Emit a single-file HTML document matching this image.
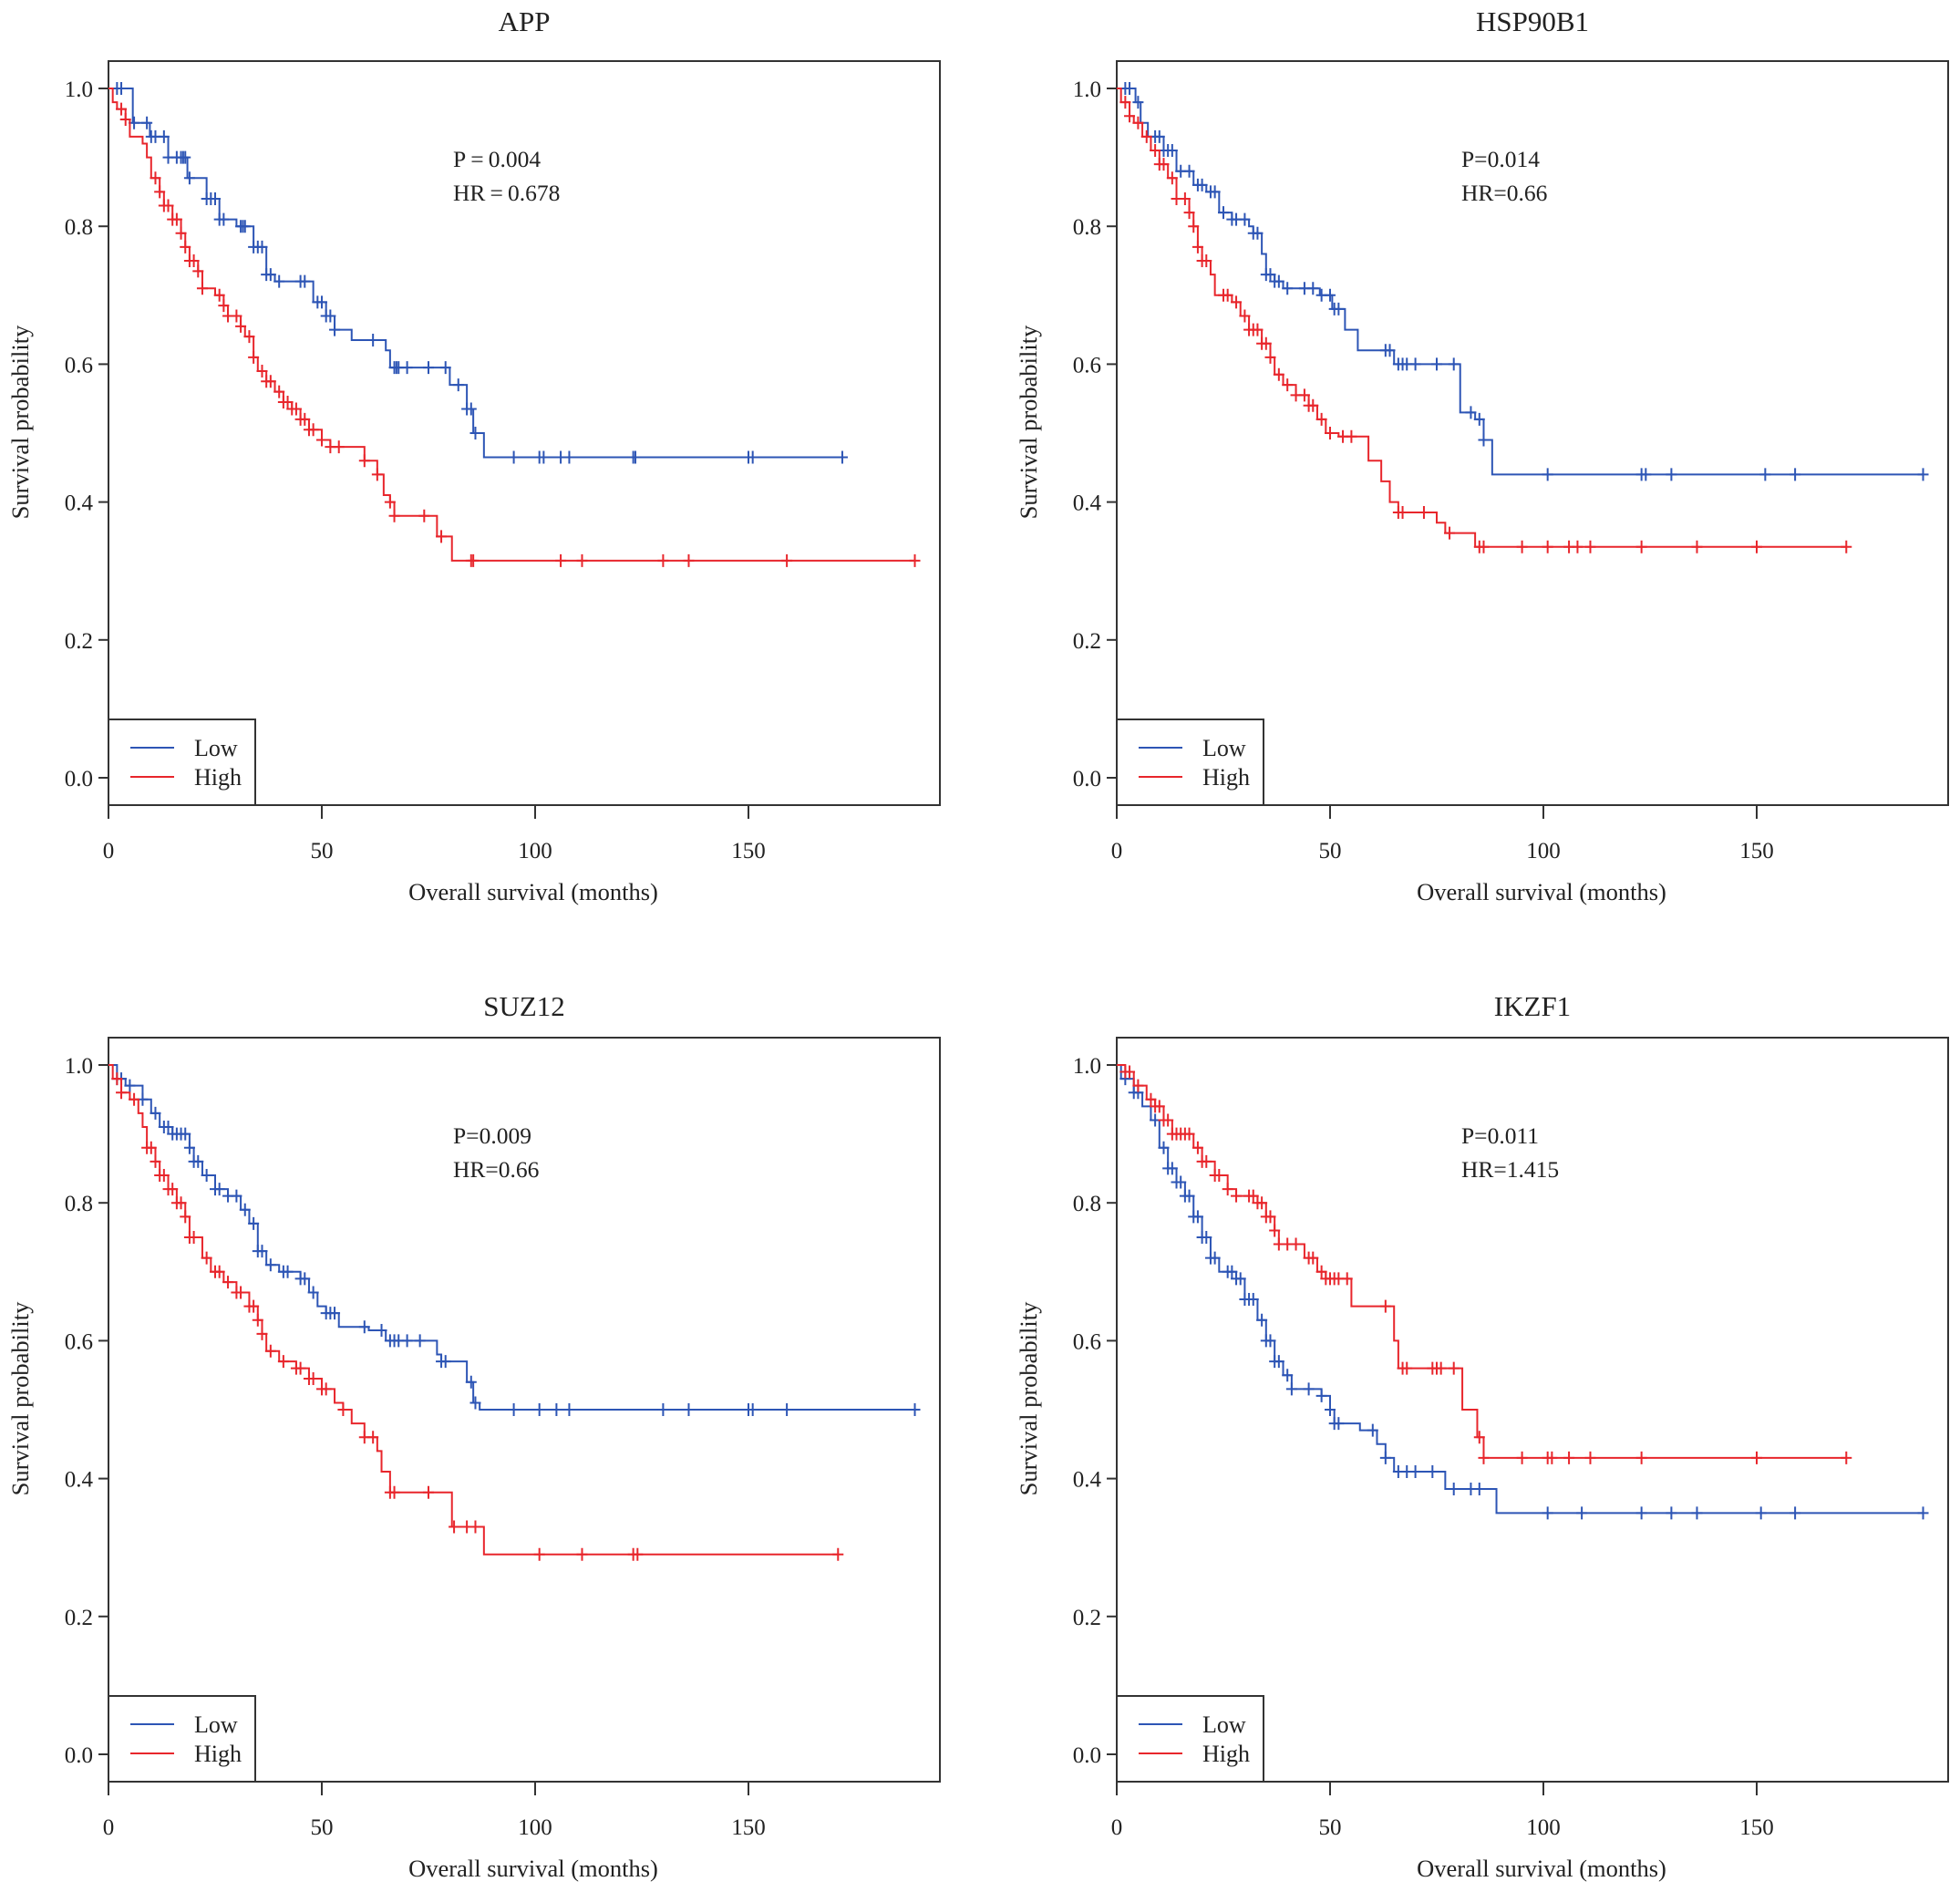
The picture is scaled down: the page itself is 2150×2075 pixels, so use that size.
<!DOCTYPE html>
<html><head><meta charset="utf-8">
<style>
html,body{margin:0;padding:0;background:#fff;}
svg{display:block;font-family:"Liberation Serif","DejaVu Serif",serif;}
</style></head>
<body>
<svg id="fig" width="2150" height="2075" viewBox="0 0 2150 2075" xmlns="http://www.w3.org/2000/svg"></svg>
<script>
// ---- data ----
const panelTitles = ["APP","HSP90B1","SUZ12","IKZF1"];
const pValues = ["P\u2009=\u20090.004","P=0.014","P=0.009","P=0.011"];
const hrValues = ["HR\u2009=\u20090.678","HR=0.66","HR=0.66","HR=1.415"];
const xTicks = [0,50,100,150];
const yTicks = [0.0,0.2,0.4,0.6,0.8,1.0];
const legendLabels = ["Low","High"];

const appLowSteps = [[5.7,0.95],[9.7,0.93],[14,0.90],[18.5,0.87],[23,0.84],[26,0.81],[30,0.80],[34,0.77],[37,0.73],[39,0.72],[48,0.69],[51,0.67],[53,0.65],[57,0.635],[65,0.62],[66,0.595],[80,0.57],[84,0.535],[85.5,0.50],[88,0.465]];
const appLowEnd = 172;
const appLowCens = [2,3,6,9,10,11,13,14,16,17,17.5,18,19,23,24,25,26,27,31,31.5,32,34,35,36,37,38,40,45,46,49,50,51,52,53,62,67,67.5,68,70,75,79,82,84,85,86,95,101,102,106,108,123,123.5,150,151,172];
const appHighSteps = [[1,0.98],[2,0.97],[4,0.955],[5,0.93],[8,0.92],[9,0.90],[10,0.87],[12,0.85],[13,0.83],[15,0.81],[17,0.79],[18,0.77],[19,0.75],[21,0.735],[22,0.71],[25,0.70],[27,0.685],[28,0.67],[31,0.655],[32,0.64],[34,0.61],[35,0.59],[37,0.575],[39,0.56],[41,0.545],[43,0.535],[45,0.52],[47,0.505],[50,0.49],[52,0.48],[60,0.46],[63,0.44],[64.5,0.41],[66,0.40],[67,0.38],[77,0.35],[80.5,0.315]];
const appHighEnd = 189;
const appHighCens = [3,4,11,12,13,14,15,16,17,18,19,20,21,22,26,27,28,30,31,33,34,36,37,38,40,41,42,43,44,45,46,47,48,50,52,54,60,63,66,67,74,78,85,85.5,106,111,130,136,159,189];

const hspLowSteps = [[4.4,0.98],[5.6,0.95],[7.3,0.93],[11,0.91],[14,0.88],[18,0.86],[21,0.85],[24,0.82],[27,0.81],[31,0.80],[32,0.79],[34,0.76],[35,0.73],[37,0.72],[39,0.71],[47.6,0.70],[50.5,0.68],[53.5,0.65],[56.5,0.62],[65,0.60],[80.5,0.53],[84,0.52],[86,0.49],[88,0.44]];
const hspLowEnd = 189;
const hspLowCens = [2,3,5,9,10,11,12,13,15,17,19,20,22,23,25,27,28,30,32,33,35,36,37,38,40,44,46,48,50,51,52,63,64,66,67,68,70,75,79,83,85,86,101,123,124,130,152,159,189];
const hspHighSteps = [[1,0.98],[3,0.96],[4,0.95],[6,0.93],[8,0.91],[10,0.89],[12,0.87],[14,0.84],[17,0.82],[18,0.80],[19,0.77],[20,0.75],[22,0.73],[23,0.70],[27,0.69],[29,0.67],[31,0.65],[34,0.63],[36,0.61],[37,0.585],[39,0.57],[42,0.555],[45,0.54],[47,0.52],[49,0.50],[52,0.495],[59,0.46],[62,0.43],[64,0.40],[66,0.385],[75,0.37],[77,0.355],[84,0.335]];
const hspHighEnd = 171;
const hspHighCens = [2,3,5,7,9,10,11,13,14,16,17,18,19,20,21,25,26,28,30,31,32,33,34,35,36,38,40,42,44,45,46,48,50,53,55,66,67,72,78,85,86,95,101,106,108,111,123,136,150,171];

const suzLowSteps = [[2,0.98],[4,0.97],[8,0.95],[10,0.93],[12,0.91],[15,0.90],[19,0.88],[20,0.86],[22,0.84],[25,0.82],[28,0.81],[31,0.79],[33,0.77],[35,0.73],[37,0.71],[40,0.70],[45,0.69],[47,0.67],[49,0.65],[51,0.64],[54,0.62],[61,0.615],[65,0.60],[77,0.58],[78,0.57],[84,0.54],[85.5,0.51],[87,0.50]];
const suzLowEnd = 189;
const suzLowCens = [2,3,5,8,11,13,14,15,16,17,18,19,20,21,23,25,26,28,30,32,34,35,36,38,41,42,45,46,48,51,52,53,60,64,66,67,68,70,73,78,79,85,86,95,101,105,108,130,136,150,151,159,189];
const suzHighSteps = [[1,0.98],[3,0.96],[5,0.95],[7,0.93],[8,0.91],[9,0.88],[11,0.86],[12,0.84],[14,0.82],[16,0.80],[18,0.78],[19,0.75],[22,0.72],[24,0.70],[27,0.685],[30,0.67],[33,0.65],[35,0.63],[36,0.61],[37,0.585],[40,0.57],[44,0.56],[47,0.545],[50,0.53],[53,0.51],[55,0.50],[57,0.48],[60,0.46],[63,0.44],[64,0.41],[66,0.38],[80.5,0.33],[88,0.29]];
const suzHighEnd = 171;
const suzHighCens = [2,3,6,9,10,11,12,13,14,15,16,17,18,19,20,23,25,26,28,30,31,33,34,35,36,38,41,44,45,47,48,50,51,55,60,62,66,67,75,81,84,86,101,111,123,124,171];

const ikzLowSteps = [[1,0.98],[4,0.96],[6,0.94],[8,0.92],[10,0.88],[12,0.85],[14,0.83],[16,0.81],[18,0.78],[20,0.75],[22,0.72],[24,0.70],[28,0.69],[30,0.66],[33,0.63],[35,0.60],[37,0.57],[39,0.55],[41,0.53],[48,0.52],[50,0.50],[51,0.48],[57,0.47],[61,0.45],[63,0.43],[65,0.41],[77,0.385],[89,0.35]];
const ikzLowEnd = 189;
const ikzLowCens = [2,4,5,9,11,12,13,14,15,16,17,18,19,20,21,22,23,26,27,28,29,30,31,32,34,35,36,37,38,40,41,45,48,50,51,52,60,63,66,68,70,74,79,83,85,101,109,123,130,136,151,159,189];
const ikzHighSteps = [[2,0.99],[4,0.97],[7,0.95],[9,0.94],[11,0.92],[13,0.90],[18,0.88],[20,0.86],[23,0.84],[26,0.82],[28,0.81],[33,0.80],[35,0.78],[37,0.76],[38,0.74],[44,0.72],[47,0.70],[49,0.69],[55,0.65],[65,0.60],[66,0.56],[81,0.50],[84.5,0.46],[86,0.43]];
const ikzHighEnd = 171;
const ikzHighCens = [2,3,5,8,9,10,11,12,13,14,15,16,17,19,20,21,23,24,26,28,31,32,33,34,35,36,37,38,40,42,45,46,48,49,50,51,52,54,63,67,68,74,75,76,79,85,86,95,101,102,106,111,123,150,171];

const panelsLow = [[appLowSteps,appLowEnd,appLowCens],[hspLowSteps,hspLowEnd,hspLowCens],[suzLowSteps,suzLowEnd,suzLowCens],[ikzLowSteps,ikzLowEnd,ikzLowCens]];
const panelsHigh = [[appHighSteps,appHighEnd,appHighCens],[hspHighSteps,hspHighEnd,hspHighCens],[suzHighSteps,suzHighEnd,suzHighCens],[ikzHighSteps,ikzHighEnd,ikzHighCens]];

// ---- drawing ----
const NS = "http://www.w3.org/2000/svg";
const svg = document.getElementById('fig');
const BLUE = "#2d55b5", RED = "#e8262c";
function mk(tag, attrs, parent){ const e=document.createElementNS(NS,tag); for(const k in attrs) e.setAttribute(k,attrs[k]); (parent||svg).appendChild(e); return e; }

function survAt(steps,t){ let s=1; for(const st of steps){ if(st[0]<=t) s=st[1]; else break; } return s; }

function drawPanel(i){
  const row = Math.floor(i/2);
  const dx = (i%2)*1106, dy = row*1071;
  const L=119+dx, R=1031+dx, T=67+dy, B=883+dy;
  const xs = t => L + t*4.68;
  const ys = v => 853+dy - v*756;
  const g = mk('g',{});
  
  

  const title = mk('text',{x:(L+R)/2,y:34+dy+row*9,'text-anchor':'middle','font-size':31,fill:'#222'},g);
  title.textContent = panelTitles[i];
  
  

  const box = mk('rect',{x:L,y:T,width:R-L,height:B-T,fill:'none',stroke:'#333','stroke-width':2},g);
  
  

  yTicks.forEach(v=>{
    const y=ys(v);
    mk('line',{x1:L-11,x2:L,y1:y,y2:y,stroke:'#333','stroke-width':2},g);
    const t=mk('text',{x:L-17,y:y+9,'text-anchor':'end','font-size':25,fill:'#222'},g);
    t.textContent=v.toFixed(1);
    
    
  });
  xTicks.forEach(v=>{
    const x=xs(v);
    mk('line',{x1:x,x2:x,y1:B,y2:B+15,stroke:'#333','stroke-width':2},g);
    const t=mk('text',{x:x,y:B+58,'text-anchor':'middle','font-size':25,fill:'#222'},g);
    t.textContent=String(v);
    
    
  });
  const xt=mk('text',{x:(L+R)/2+10,y:987+dy,'text-anchor':'middle','font-size':26.5,fill:'#222'},g);
  xt.textContent='Overall survival (months)';
  
  
  const cy=463+dy, cx=31+dx;
  const yt=mk('text',{x:cx,y:cy,'text-anchor':'middle','font-size':26.5,fill:'#222',transform:`rotate(-90 ${cx} ${cy})`},g);
  yt.textContent='Survival probability';
  
  

  const p=mk('text',{x:497+dx,y:183+dy,'font-size':25.5,fill:'#222'},g);
  p.textContent=pValues[i];
  
  
  const hr=mk('text',{x:497+dx,y:220+dy,'font-size':25.5,fill:'#222'},g);
  hr.textContent=hrValues[i];
  
  

  function curve(series,color,name){
    const [steps,end,cens]=series;
    let d=`M${xs(0)},${ys(1)}`;
    steps.forEach(s=>{ d+=` H${xs(s[0])} V${ys(s[1])}`; });
    d+=` H${xs(end)}`;
    const path=mk('path',{d:d,fill:'none',stroke:color,'stroke-width':2},g);
    
    
    cens.forEach(t=>{
      const x=xs(t), y=ys(survAt(steps,t));
      const c=mk('path',{d:`M${x-6},${y} H${x+6} M${x},${y-7} V${y+7}`,stroke:color,'stroke-width':2},g);
      
      
    });
  }
  curve(panelsLow[i],BLUE,'low');
  curve(panelsHigh[i],RED,'high');

  const lg=mk('g',{},g);
  
  
  mk('rect',{x:L,y:789+dy,width:161,height:94,fill:'#fff',stroke:'#333','stroke-width':2},lg);
  [BLUE,RED].forEach((c,k)=>{
    const y=820+dy+k*32;
    const ln=mk('line',{x1:L+24,x2:L+72,y1:y,y2:y,stroke:c,'stroke-width':2},lg);
    
    
    const t=mk('text',{x:L+94,y:y+9,'font-size':26,fill:'#222'},lg);
    t.textContent=legendLabels[k];
    
    
  });
}
for(let i=0;i<4;i++) drawPanel(i);
</script>
</body></html>
